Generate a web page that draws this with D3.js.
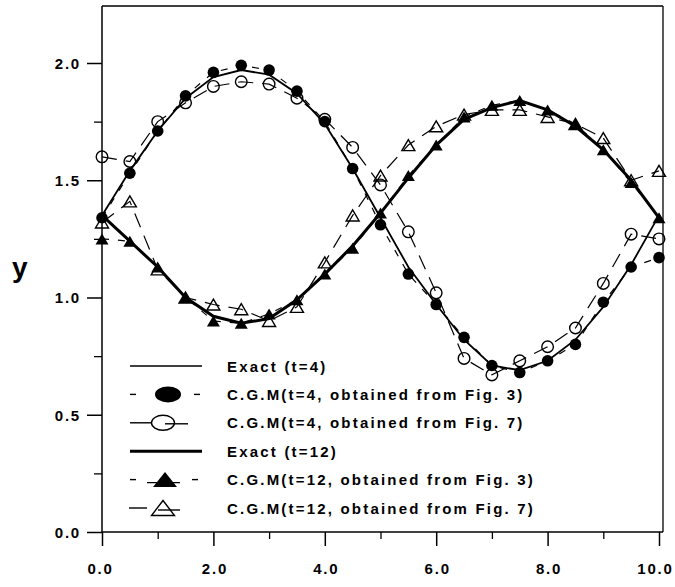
<!DOCTYPE html>
<html>
<head>
<meta charset="utf-8">
<script src="https://cdn.jsdelivr.net/npm/d3@7"></script>
<style>
  body { margin: 0; background: #fff; }
  text { font-family: "Liberation Sans", Arial, Helvetica, sans-serif; fill: #000; }
</style>
</head>
<body>
<svg id="chart" width="675" height="587"></svg>
<script>
// Sample positions along x
const xValues = [0, 0.5, 1, 1.5, 2, 2.5, 3, 3.5, 4, 4.5, 5, 5.5, 6, 6.5, 7, 7.5, 8, 8.5, 9, 9.5, 10];

// t = 4
const exactT4   = [1.35, 1.54, 1.71, 1.85, 1.94, 1.97, 1.95, 1.87, 1.74, 1.55, 1.34, 1.13, 0.97, 0.82, 0.71, 0.69, 0.73, 0.82, 0.96, 1.14, 1.35];
const cgmT4Fig3 = [1.34, 1.53, 1.71, 1.86, 1.96, 1.99, 1.97, 1.88, 1.75, 1.55, 1.31, 1.10, 0.97, 0.83, 0.71, 0.68, 0.73, 0.80, 0.98, 1.13, 1.17];
const cgmT4Fig7 = [1.60, 1.58, 1.75, 1.83, 1.90, 1.92, 1.91, 1.85, 1.76, 1.64, 1.48, 1.28, 1.02, 0.74, 0.67, 0.73, 0.79, 0.87, 1.06, 1.27, 1.25];

// t = 12
const exactT12   = [1.35, 1.24, 1.13, 1.00, 0.92, 0.89, 0.91, 0.99, 1.10, 1.22, 1.36, 1.51, 1.65, 1.76, 1.81, 1.84, 1.80, 1.73, 1.63, 1.50, 1.34];
const cgmT12Fig3 = [1.25, 1.24, 1.13, 1.00, 0.90, 0.89, 0.93, 0.99, 1.10, 1.21, 1.36, 1.52, 1.65, 1.77, 1.82, 1.84, 1.80, 1.74, 1.63, 1.49, 1.34];
const cgmT12Fig7 = [1.32, 1.41, 1.12, 1.00, 0.97, 0.95, 0.90, 0.96, 1.15, 1.35, 1.52, 1.65, 1.73, 1.78, 1.80, 1.80, 1.77, 1.74, 1.68, 1.50, 1.54];

// Axis ticks
const xMajorTicks = [0, 2, 4, 6, 8, 10];
const xMinorTicks = [1, 3, 5, 7, 9];
const yMajorTicks = [0, 0.5, 1.0, 1.5, 2.0];
const yMinorTicks = [0.25, 0.75, 1.25, 1.75];

const legendLabels = [
  "Exact (t=4)",
  "C.G.M(t=4, obtained from Fig. 3)",
  "C.G.M(t=4, obtained from Fig. 7)",
  "Exact (t=12)",
  "C.G.M(t=12, obtained from Fig. 3)",
  "C.G.M(t=12, obtained from Fig. 7)"
];

const svg = d3.select("#chart");

const plotLeft = 102, plotRight = 663, plotBottom = 532, plotTop = 6;
const x = d3.scaleLinear().domain([0, 10]).range([plotLeft, 659]);
const y = d3.scaleLinear().domain([0, 2]).range([plotBottom, 63]);

// Frame
const frameLine = (x1, y1, x2, y2, w) => svg.append("line")
  .attr("x1", x1).attr("y1", y1).attr("x2", x2).attr("y2", y2)
  .attr("stroke", "#000").attr("stroke-width", w);
frameLine(plotLeft, plotTop, plotRight, plotTop, 1.3);
frameLine(plotRight, plotTop, plotRight, plotBottom, 1.3);
frameLine(plotLeft, plotTop, plotLeft, plotBottom, 1.5);
frameLine(plotLeft, plotBottom, plotRight, plotBottom, 1.5);

const tickFont = g => g.selectAll("text")
  .attr("font-size", 15).attr("font-weight", "bold").attr("letter-spacing", "1.8px")
  .attr("fill", "#000");

// X axis
svg.append("g").attr("transform", `translate(0,${plotBottom})`)
  .call(d3.axisBottom(x).tickValues(xMajorTicks).tickSize(14).tickSizeOuter(0)
    .tickFormat(d3.format(".1f")))
  .call(g => g.select(".domain").remove())
  .call(g => g.selectAll("line").attr("stroke-width", 1.5))
  .call(tickFont)
  .call(g => g.selectAll("text").attr("y", 42).attr("dy", 0)
    .attr("dx", d => d === 10 ? "-4px" : (d === 0 ? "-2px" : "1px")));
svg.append("g").attr("transform", `translate(0,${plotBottom})`)
  .call(d3.axisBottom(x).tickValues(xMinorTicks).tickSize(7).tickFormat(""))
  .call(g => g.select(".domain").remove())
  .call(g => g.selectAll("line").attr("stroke-width", 1.3));

// Y axis
svg.append("g").attr("transform", `translate(${plotLeft},0)`)
  .call(d3.axisLeft(y).tickValues(yMajorTicks).tickSize(15).tickSizeOuter(0)
    .tickFormat(d3.format(".1f")))
  .call(g => g.select(".domain").remove())
  .call(g => g.selectAll("line").attr("stroke-width", 1.5))
  .call(tickFont)
  .call(g => g.selectAll("text").attr("x", -21).attr("dy", "0.36em"));
svg.append("g").attr("transform", `translate(${plotLeft},0)`)
  .call(d3.axisLeft(y).tickValues(yMinorTicks).tickSize(8).tickFormat(""))
  .call(g => g.select(".domain").remove())
  .call(g => g.selectAll("line").attr("stroke-width", 1.3));

// Y axis title
svg.append("text").attr("x", 12).attr("y", 277)
  .attr("font-size", 28).attr("font-weight", "bold").text("y");

// Series
const pts = vals => xValues.map((v, i) => [v, vals[i]]);
const line = d3.line().x(d => x(d[0])).y(d => y(d[1]));

const plot = svg.append("g");

const dashed = (vals, dash) => plot.append("path").datum(pts(vals)).attr("d", line)
  .attr("fill", "none").attr("stroke", "#000").attr("stroke-width", 1.2)
  .attr("stroke-dasharray", dash);

// dashed C.G.M connections
dashed(cgmT4Fig7, "15,9");
dashed(cgmT12Fig7, "15,9");
dashed(cgmT4Fig3, "7,9");
dashed(cgmT12Fig3, "7,9");

// exact solutions
plot.append("path").datum(pts(exactT4)).attr("d", line)
  .attr("fill", "none").attr("stroke", "#000").attr("stroke-width", 1.8);
plot.append("path").datum(pts(exactT12)).attr("d", line)
  .attr("fill", "none").attr("stroke", "#000").attr("stroke-width", 3);

const triPath = (w, h) => `M0,${-h / 2}L${w / 2},${h / 2}L${-w / 2},${h / 2}Z`;

// markers
plot.append("g").selectAll("circle").data(pts(cgmT4Fig7)).join("circle")
  .attr("cx", d => x(d[0])).attr("cy", d => y(d[1])).attr("r", 5.8)
  .attr("fill", "none").attr("stroke", "#000").attr("stroke-width", 1.4);
plot.append("g").selectAll("path").data(pts(cgmT12Fig7)).join("path")
  .attr("transform", d => `translate(${x(d[0])},${y(d[1])})`).attr("d", triPath(13, 11))
  .attr("fill", "none").attr("stroke", "#000").attr("stroke-width", 1.4);
plot.append("g").selectAll("circle").data(pts(cgmT4Fig3)).join("circle")
  .attr("cx", d => x(d[0])).attr("cy", d => y(d[1])).attr("r", 5.8)
  .attr("fill", "#000");
plot.append("g").selectAll("path").data(pts(cgmT12Fig3)).join("path")
  .attr("transform", d => `translate(${x(d[0])},${y(d[1])})`).attr("d", triPath(13, 11))
  .attr("fill", "#000");

// Legend
const legend = svg.append("g");
const rowY = i => 366 + i * 28.4;

legendLabels.forEach((label, i) => {
  legend.append("text").attr("x", 227).attr("y", rowY(i) + 5.5)
    .attr("font-size", 15).attr("font-weight", "bold").attr("letter-spacing", "2.2px")
    .text(label);
});

const seg = (x1, x2, yy, w) => legend.append("line")
  .attr("x1", x1).attr("x2", x2).attr("y1", yy).attr("y2", yy)
  .attr("stroke", "#000").attr("stroke-width", w);

// Exact (t=4)
seg(130, 202, rowY(0), 1.6);
// C.G.M t=4, Fig. 3
seg(130, 136, rowY(1), 1.4); seg(194, 200, rowY(1), 1.4);
legend.append("ellipse").attr("cx", 168).attr("cy", rowY(1)).attr("rx", 13).attr("ry", 8).attr("fill", "#000");
// C.G.M t=4, Fig. 7
seg(130, 151, rowY(2), 1.4); seg(165, 188, rowY(2) + 1, 1.4);
legend.append("ellipse").attr("cx", 163).attr("cy", rowY(2)).attr("rx", 11.5).attr("ry", 7.5)
  .attr("fill", "none").attr("stroke", "#000").attr("stroke-width", 1.4);
// Exact (t=12)
seg(130, 202, rowY(3), 3);
// C.G.M t=12, Fig. 3
seg(130, 136, rowY(4), 1.4); seg(147, 180, rowY(4) + 3, 1.4); seg(192, 198, rowY(4), 1.4);
legend.append("path").attr("transform", `translate(165,${rowY(4)})`).attr("d", triPath(24, 15)).attr("fill", "#000");
// C.G.M t=12, Fig. 7
seg(129, 147, rowY(5), 1.4); seg(158, 180, rowY(5) + 2, 1.4);
legend.append("path").attr("transform", `translate(163,${rowY(5)})`).attr("d", triPath(23, 15))
  .attr("fill", "none").attr("stroke", "#000").attr("stroke-width", 1.4);
</script>
</body>
</html>
